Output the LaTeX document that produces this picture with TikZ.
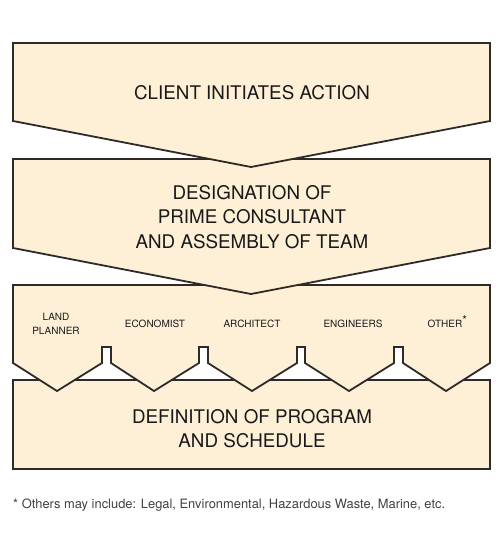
\documentclass[tikz,border=0pt]{standalone}
\usepackage{fontspec}
\setmainfont{TeX Gyre Heros}
\usepackage{xcolor}
\definecolor{cream}{RGB}{254,240,215}
\definecolor{edge}{RGB}{45,42,40}

\begin{document}
\begin{tikzpicture}[x=1pt,y=-1pt,
    stage/.style={draw=edge, fill=cream, line width=1.8pt, line join=miter},
    bigtext/.style={font=\fontsize{18.8}{24.5}\selectfont, align=center,
        inner sep=0pt, text=black!90},
    member/.style={font=\fontsize{10}{14}\selectfont, align=center,
        inner sep=0pt, text=black!90},
    note/.style={font=\fontsize{12.9}{15}\selectfont, anchor=west,
        inner sep=0pt, text=black!75}]
    \useasboundingbox (0,0) rectangle (500,537);

    % bottom box first, the arrows lie over it
    \draw[stage] (13,380) rectangle (490,469);

    \draw[stage] (13,285) -- (490,285) -- (490,363) -- (446,391)
        -- (403,363) -- (403,347) -- (394,347) -- (394,363) -- (349,391)
        -- (305,363) -- (305,347) -- (297,347) -- (297,363) -- (252,391)
        -- (208,363) -- (208,347) -- (199,347) -- (199,363) -- (154,391)
        -- (111,363) -- (111,347) -- (102,347) -- (102,363) -- (57,391)
        -- (13,363) -- cycle;

    \draw[stage] (13,159) -- (490,159) -- (490,248) -- (251,294)
        -- (13,248) -- cycle;

    \draw[stage] (13,43) -- (490,43) -- (490,121) -- (251,167)
        -- (13,121) -- cycle;

    \node[bigtext] (client) at (252,93) {CLIENT INITIATES ACTION};
    \node[bigtext] (prime) at (252,217) {DESIGNATION OF\\PRIME CONSULTANT\\AND ASSEMBLY OF TEAM};

    \node[member] (land) at (56,324) {LAND\\PLANNER};
    \node[member] (econ) at (155,324) {ECONOMIST};
    \node[member] (arch) at (252,324) {ARCHITECT};
    \node[member] (engi) at (353,324) {ENGINEERS};
    \node[member] (other) at (445,324) {OTHER\rlap{\smash{\textsuperscript{\large *}}}};

    \node[bigtext] (program) at (252,428.5) {DEFINITION OF PROGRAM\\AND SCHEDULE};

    \node[note] (others) at (13,505) {* Others may include: Legal, Environmental, Hazardous Waste, Marine, etc.};

\end{tikzpicture}
\end{document}
